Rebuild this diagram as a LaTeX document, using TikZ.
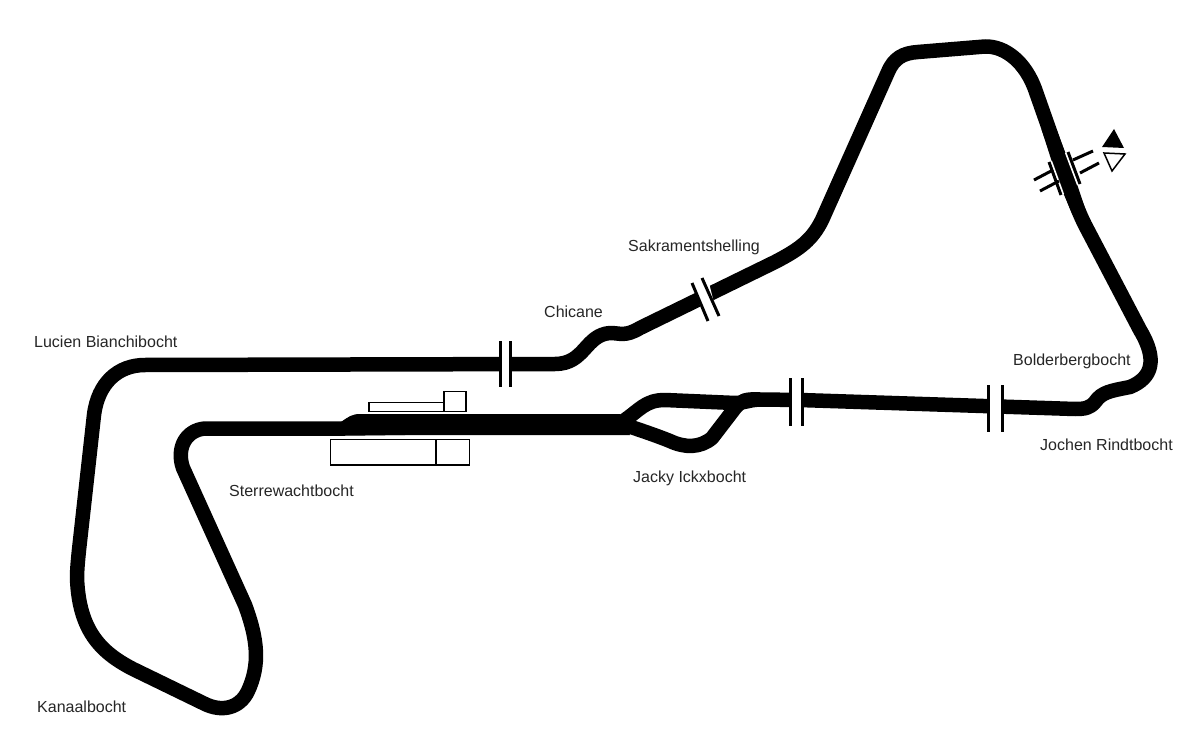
\documentclass[tikz,border=0pt]{standalone}
\usepackage{fontspec}
\setmainfont{Liberation Sans}
\tikzset{
 track/.style={line width=14.5pt,line join=round,draw=black},
 bar/.style={line width=3pt,draw=black},
 halo/.style={line width=6.5pt,draw=white},
 gap/.style={fill=white,draw=none},
 bld/.style={draw=black,line width=1.5pt,fill=white},
 lbl/.style={font=\fontsize{16}{18}\selectfont,text=black!85,inner sep=0pt,anchor=west},
}
\begin{document}
\begin{tikzpicture}[x=1pt,y=-1pt]
\useasboundingbox (0,0) rectangle (1200,746);
\fill[white] (0,0) rectangle (1200,746);
% main circuit
\draw[track] (625,425) -- (345,428.5) -- (205,428.5)
 .. controls (186,430) and (176,448) .. (183,468)
 -- (245,605)
 .. controls (258,640) and (260,665) .. (248,691)
 .. controls (240,708) and (222,713) .. (203,703)
 -- (133,669)
 .. controls (100,652) and (79,630) .. (77,578)
 .. controls (77,570) and (78,560) .. (79,550)
 -- (94,415)
 .. controls (98,383) and (118,365) .. (145,365)
 -- (555,364)
 .. controls (585,364) and (585,335) .. (610,333)
 .. controls (620,333) and (625,337) .. (640,328)
 -- (775,262)
 .. controls (800,249) and (812,240) .. (822,220)
 -- (888,72)
 .. controls (894,58) and (903,53) .. (918,52)
 -- (985,46.5)
 .. controls (1005,46) and (1026,62) .. (1036,92)
 -- (1061,163)
 .. controls (1067,180) and (1075,205) .. (1085,225)
 -- (1140,330)
 .. controls (1158,360) and (1152,378) .. (1130,387)
 .. controls (1110,391) and (1102,392) .. (1095,402)
 .. controls (1090,408) and (1085,409) .. (1075,409)
 -- (800,400) -- (760,399.5)
 .. controls (745,399) and (742,400) .. (735,408)
 -- (712,438)
 .. controls (700,448) and (685,448) .. (670,441)
 .. controls (655,435) and (640,430) .. (625,425);
% upper branch
\draw[track] (622,422) .. controls (640,410) and (645,400) .. (665,400)
 -- (735,403) .. controls (745,403) and (748,400) .. (760,399.5);
% pit straight
\fill[black] (341,422) .. controls (348,417) and (352,414) .. (360,414) -- (620,414) -- (630,435) -- (330,435) -- cycle;
% wider stretch at the tunnel
\fill[black] (1041.5,129.3) -- (1058,180.8) -- (1072.5,214.3) -- (1085.5,209.7) -- (1074,175.2) -- (1054.5,124.7) -- cycle;
% buildings
\draw[bld] (369,402.5) rectangle (444,411.5);
\draw[bld] (444,391.5) rectangle (466,411.5);
\draw[bld] (330.5,439.5) rectangle (469.5,465);
\draw[black,line width=1.5pt] (436,439.5) -- (436,465);
% bridges with a gap in the track
\fill[gap] (501,350) rectangle (509,380);
\draw[bar] (500,341) -- (500,387);
\draw[bar] (510,341) -- (510,387);
\fill[gap] (791,385) rectangle (801,415);
\draw[bar] (790,378) -- (790,426);
\draw[bar] (802,378) -- (802,426);
\fill[gap] (989,392) rectangle (1001,422);
\draw[bar] (988,385) -- (988,432);
\draw[bar] (1002,385) -- (1002,432);
\fill[gap] (696,289) -- (709,283) -- (716,311) -- (703,317) -- cycle;
\draw[bar] (692,283) -- (708,321);
\draw[bar] (702,278) -- (719,316);
% tunnel bridge
\draw[halo] (1049,162) -- (1061,195);
\draw[halo] (1068,152) -- (1080,184);
\draw[bar] (1049,162) -- (1061,195);
\draw[bar] (1068,152) -- (1080,184);
\draw[bar] (1034,180) -- (1053,170);
\draw[bar] (1040,191) -- (1059,181);
\draw[bar] (1073,160) -- (1093,151);
\draw[bar] (1080,173) -- (1099,163);
\fill[black] (1114,129) -- (1102,147) -- (1124,148) -- cycle;
\draw[black,line width=1.5pt,fill=white] (1104,153) -- (1125,154) -- (1112,171) -- cycle;
% labels
\node[lbl] (l1) at (34,342) {Lucien Bianchibocht};
\node[lbl] (l2) at (544,312) {Chicane};
\node[lbl] (l3) at (628,247) {Sakramentshelling};
\node[lbl] (l4) at (1013,361) {Bolderbergbocht};
\node[lbl] (l5) at (1040,445) {Jochen Rindtbocht};
\node[lbl] (l6) at (633,478) {Jacky Ickxbocht};
\node[lbl] (l7) at (229,491) {Sterrewachtbocht};
\node[lbl] (l8) at (37,707) {Kanaalbocht};
\end{tikzpicture}
\end{document}
